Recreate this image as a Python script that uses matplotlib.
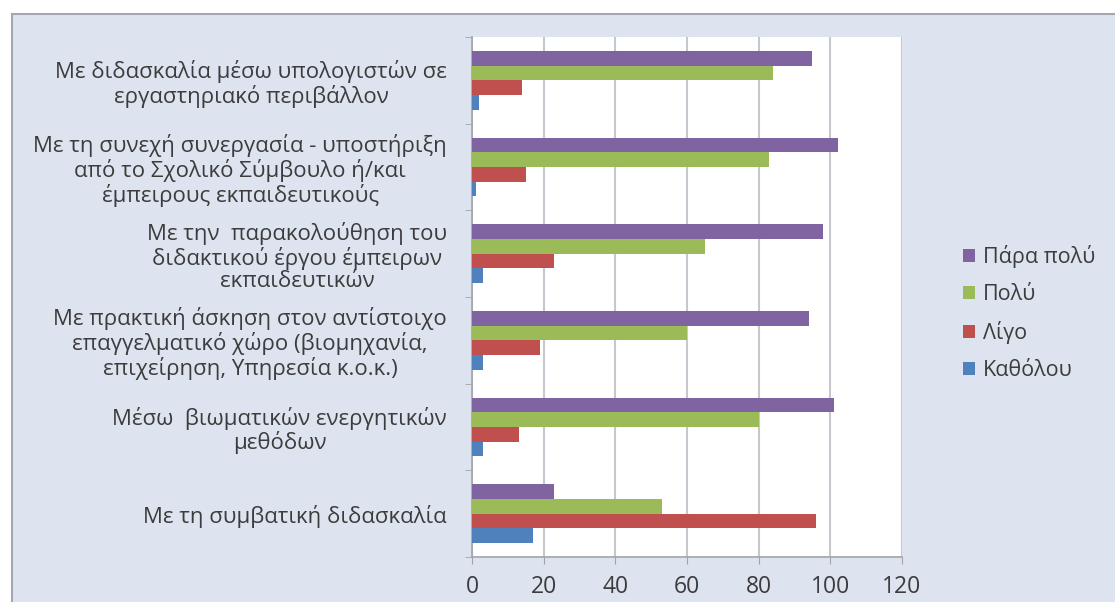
import numpy as np
import matplotlib.pyplot as plt
from matplotlib.patches import Rectangle, Patch

plt.rcParams['font.family'] = ['Open Sans', 'DejaVu Sans']

# categories, top to bottom as drawn
categories = [
    "Με διδασκαλία μέσω υπολογιστών σε\nεργαστηριακό περιβάλλον",
    "Με τη συνεχή συνεργασία - υποστήριξη\nαπό το Σχολικό Σύμβουλο ή/και\nέμπειρους εκπαιδευτικούς",
    "Με την  παρακολούθηση του\nδιδακτικού έργου έμπειρων\nεκπαιδευτικών",
    "Με πρακτική άσκηση στον αντίστοιχο\nεπαγγελματικό χώρο (βιομηχανία,\nεπιχείρηση, Υπηρεσία κ.ο.κ.)",
    "Μέσω  βιωματικών ενεργητικών\nμεθόδων",
    "Με τη συμβατική διδασκαλία",
]

para_poly = [95, 102, 98, 94, 101, 23]
poly = [84, 83, 65, 60, 80, 53]
ligo = [14, 15, 23, 19, 13, 96]
katholou = [2, 1, 3, 3, 3, 17]

series_names = ["Πάρα πολύ", "Πολύ", "Λίγο", "Καθόλου"]
series_vals = [para_poly, poly, ligo, katholou]
colors = ["#8064A2", "#9BBB59", "#C0504D", "#4F81BD"]

text_col = "#3c3c3c"
grid_col = "#c4c8cf"

fig = plt.figure(figsize=(11.15, 6.02), dpi=100, facecolor="white")

# chart area background
fig.patches.append(Rectangle((12 / 1115, -0.05), 1.1, (602 - 14) / 602 + 0.05,
                             transform=fig.transFigure, facecolor="#dde4ef",
                             edgecolor="#a3a8b0", linewidth=1.5, zorder=-10))

ax = fig.add_axes([472 / 1115, 45 / 602, 430 / 1115, 520 / 602])
ax.set_facecolor("white")

y = np.arange(len(categories))
h = 0.17
offsets = [-1.5 * h, -0.5 * h, 0.5 * h, 1.5 * h]
for vals, off, c in zip(series_vals, offsets, colors):
    ax.barh(y + off, vals, height=h, color=c, zorder=3)

ax.set_xlim(0, 120)
ax.set_ylim(len(categories) - 0.5, -0.5)
ax.set_xticks(np.arange(0, 121, 20))
ax.xaxis.grid(True, color=grid_col, linewidth=1.5, zorder=0)

ax.set_yticks(y)
ax.set_yticklabels(categories, ha="right", multialignment="center", linespacing=1.1)
ax.set_yticks(np.arange(-0.5, len(categories)), minor=True)
ax.tick_params(axis="y", which="major", length=0, pad=18, labelsize=16, labelcolor=text_col)
ax.tick_params(axis="y", which="minor", length=5, color="#a0a4aa", direction="out")
ax.tick_params(axis="x", length=5, color="#a0a4aa", labelsize=16.5, labelcolor=text_col, pad=8)

for s in ["top", "right"]:
    ax.spines[s].set_visible(False)
for s in ["left", "bottom"]:
    ax.spines[s].set_color("#a0a4aa")
    ax.spines[s].set_linewidth(1.2)

handles = [Patch(facecolor=c) for c in colors]
leg = fig.legend(handles, series_names, loc="center left", bbox_to_anchor=(944 / 1115, 1 - 313 / 602),
                 frameon=False, fontsize=15.5, handlelength=0.55, handleheight=0.55,
                 labelspacing=0.75, handletextpad=0.35, labelcolor=text_col)

fig.savefig("out.png", dpi=100, facecolor="white")
